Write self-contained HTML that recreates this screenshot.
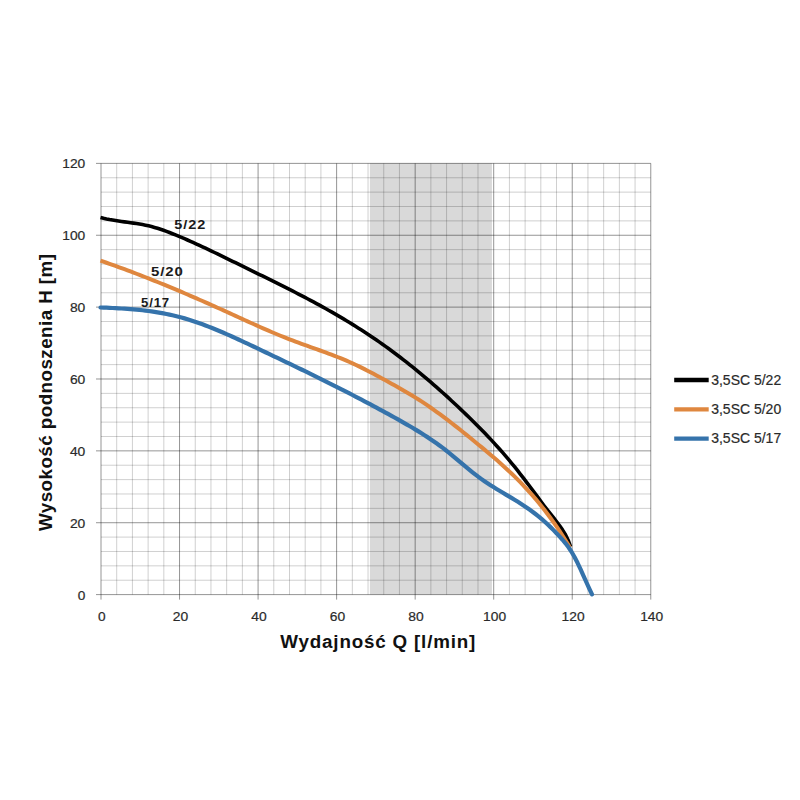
<!DOCTYPE html>
<html><head><meta charset="utf-8">
<style>
html,body{margin:0;padding:0;background:#fff;width:800px;height:800px;overflow:hidden}
svg{display:block}
text{font-family:"Liberation Sans",sans-serif}
.tk{font-size:13.2px;fill:#2a2a2a;stroke:#2a2a2a;stroke-width:0.2px}
.lg{font-size:14px;fill:#2a2a2a;stroke:#2a2a2a;stroke-width:0.2px}
.cl{font-size:12.8px;font-weight:bold;fill:#1a1a1a;letter-spacing:0.8px}
.ti{font-size:18.8px;font-weight:bold;fill:#111}
</style></head><body>
<svg width="800" height="800" viewBox="0 0 800 800">
<rect x="369.9" y="163.2" width="122.0" height="431.4" fill="#d9d9d9"/>
<path d="M116.71 163.38V594.60 M132.42 163.38V594.60 M148.12 163.38V594.60 M163.83 163.38V594.60 M195.25 163.38V594.60 M210.96 163.38V594.60 M226.66 163.38V594.60 M242.37 163.38V594.60 M273.79 163.38V594.60 M289.50 163.38V594.60 M305.20 163.38V594.60 M320.91 163.38V594.60 M352.33 163.38V594.60 M368.04 163.38V594.60 M383.74 163.38V594.60 M399.45 163.38V594.60 M430.87 163.38V594.60 M446.58 163.38V594.60 M462.28 163.38V594.60 M477.99 163.38V594.60 M509.41 163.38V594.60 M525.12 163.38V594.60 M540.82 163.38V594.60 M556.53 163.38V594.60 M587.95 163.38V594.60 M603.66 163.38V594.60 M619.36 163.38V594.60 M635.07 163.38V594.60 M101.00 580.23H650.78 M101.00 565.85H650.78 M101.00 551.48H650.78 M101.00 537.10H650.78 M101.00 508.36H650.78 M101.00 493.98H650.78 M101.00 479.61H650.78 M101.00 465.23H650.78 M101.00 436.49H650.78 M101.00 422.11H650.78 M101.00 407.74H650.78 M101.00 393.36H650.78 M101.00 364.62H650.78 M101.00 350.24H650.78 M101.00 335.87H650.78 M101.00 321.49H650.78 M101.00 292.75H650.78 M101.00 278.37H650.78 M101.00 264.00H650.78 M101.00 249.62H650.78 M101.00 220.88H650.78 M101.00 206.50H650.78 M101.00 192.13H650.78 M101.00 177.75H650.78" stroke="rgba(0,0,0,0.19)" stroke-width="1" fill="none"/>
<path d="M101.00 163.38V599.60 M179.54 163.38V599.60 M258.08 163.38V599.60 M336.62 163.38V599.60 M415.16 163.38V599.60 M493.70 163.38V599.60 M572.24 163.38V599.60 M650.78 163.38V599.60 M96.00 594.60H650.78 M96.00 522.73H650.78 M96.00 450.86H650.78 M96.00 378.99H650.78 M96.00 307.12H650.78 M96.00 235.25H650.78 M96.00 163.38H650.78" stroke="rgba(0,0,0,0.42)" stroke-width="1" fill="none"/>
<text x="77.70" y="599.50" class="tk" textLength="7.6" lengthAdjust="spacingAndGlyphs">0</text>
<text x="69.90" y="527.63" class="tk" textLength="15.4" lengthAdjust="spacingAndGlyphs">20</text>
<text x="69.90" y="455.76" class="tk" textLength="15.4" lengthAdjust="spacingAndGlyphs">40</text>
<text x="69.90" y="383.89" class="tk" textLength="15.4" lengthAdjust="spacingAndGlyphs">60</text>
<text x="69.90" y="312.02" class="tk" textLength="15.4" lengthAdjust="spacingAndGlyphs">80</text>
<text x="62.30" y="240.15" class="tk" textLength="23.0" lengthAdjust="spacingAndGlyphs">100</text>
<text x="62.30" y="168.28" class="tk" textLength="23.0" lengthAdjust="spacingAndGlyphs">120</text>
<text x="98.10" y="621.3" class="tk" textLength="7.6" lengthAdjust="spacingAndGlyphs">0</text>
<text x="172.74" y="621.3" class="tk" textLength="15.4" lengthAdjust="spacingAndGlyphs">20</text>
<text x="251.28" y="621.3" class="tk" textLength="15.4" lengthAdjust="spacingAndGlyphs">40</text>
<text x="329.82" y="621.3" class="tk" textLength="15.4" lengthAdjust="spacingAndGlyphs">60</text>
<text x="408.36" y="621.3" class="tk" textLength="15.4" lengthAdjust="spacingAndGlyphs">80</text>
<text x="483.10" y="621.3" class="tk" textLength="23.0" lengthAdjust="spacingAndGlyphs">100</text>
<text x="561.64" y="621.3" class="tk" textLength="23.0" lengthAdjust="spacingAndGlyphs">120</text>
<text x="640.18" y="621.3" class="tk" textLength="23.0" lengthAdjust="spacingAndGlyphs">140</text>
<path d="M100.50 217.43 L103.50 218.21 L106.50 218.91 L109.50 219.53 L112.50 220.08 L115.50 220.58 L118.50 221.04 L121.50 221.47 L124.50 221.88 L127.50 222.28 L130.50 222.68 L133.50 223.10 L136.50 223.55 L139.50 224.04 L142.50 224.57 L145.50 225.17 L148.50 225.84 L151.50 226.59 L154.50 227.42 L157.50 228.32 L160.50 229.29 L163.50 230.31 L166.50 231.40 L169.50 232.53 L172.50 233.70 L175.50 234.91 L178.50 236.15 L181.50 237.42 L184.50 238.71 L187.50 240.02 L190.50 241.34 L193.50 242.69 L196.50 244.05 L199.50 245.43 L202.50 246.82 L205.50 248.22 L208.50 249.64 L211.50 251.07 L214.50 252.50 L217.50 253.95 L220.50 255.40 L223.50 256.86 L226.50 258.33 L229.50 259.80 L232.50 261.27 L235.50 262.74 L238.50 264.22 L241.50 265.69 L244.50 267.16 L247.50 268.63 L250.50 270.10 L253.50 271.57 L256.50 273.04 L259.50 274.51 L262.50 275.98 L265.50 277.45 L268.50 278.93 L271.50 280.41 L274.50 281.90 L277.50 283.39 L280.50 284.89 L283.50 286.39 L286.50 287.90 L289.50 289.42 L292.50 290.95 L295.50 292.48 L298.50 294.03 L301.50 295.59 L304.50 297.16 L307.50 298.74 L310.50 300.33 L313.50 301.94 L316.50 303.56 L319.50 305.20 L322.50 306.85 L325.50 308.52 L328.50 310.21 L331.50 311.91 L334.50 313.63 L337.50 315.37 L340.50 317.13 L343.50 318.91 L346.50 320.71 L349.50 322.54 L352.50 324.38 L355.50 326.25 L358.50 328.15 L361.50 330.06 L364.50 332.01 L367.50 333.97 L370.50 335.97 L373.50 337.99 L376.50 340.04 L379.50 342.12 L382.50 344.23 L385.50 346.37 L388.50 348.54 L391.50 350.74 L394.50 352.97 L397.50 355.22 L400.50 357.51 L403.50 359.83 L406.50 362.18 L409.50 364.55 L412.50 366.95 L415.50 369.39 L418.50 371.85 L421.50 374.33 L424.50 376.85 L427.50 379.39 L430.50 381.96 L433.50 384.56 L436.50 387.18 L439.50 389.83 L442.50 392.51 L445.50 395.21 L448.50 397.94 L451.50 400.70 L454.50 403.47 L457.50 406.28 L460.50 409.11 L463.50 411.96 L466.50 414.84 L469.50 417.75 L472.50 420.69 L475.50 423.66 L478.50 426.67 L481.50 429.72 L484.50 432.81 L487.50 435.95 L490.50 439.14 L493.50 442.37 L496.50 445.67 L499.50 449.02 L502.50 452.43 L505.50 455.90 L508.50 459.44 L511.50 463.05 L514.50 466.73 L517.50 470.47 L520.50 474.27 L523.50 478.13 L526.50 482.05 L529.50 486.01 L532.50 490.02 L535.50 494.07 L538.50 498.15 L541.50 502.21 L544.50 506.21 L547.50 510.10 L550.50 513.91 L553.50 517.71 L556.50 521.58 L559.50 525.61 L562.50 529.86 L565.50 534.70 L568.50 541.07 L570.50 546.71" stroke="#000" stroke-width="3.6" fill="none" stroke-linejoin="round"/>
<path d="M100.50 260.67 L103.50 261.70 L106.50 262.74 L109.50 263.80 L112.50 264.86 L115.50 265.94 L118.50 267.02 L121.50 268.12 L124.50 269.22 L127.50 270.34 L130.50 271.47 L133.50 272.60 L136.50 273.75 L139.50 274.90 L142.50 276.06 L145.50 277.24 L148.50 278.42 L151.50 279.61 L154.50 280.81 L157.50 282.01 L160.50 283.23 L163.50 284.45 L166.50 285.68 L169.50 286.92 L172.50 288.17 L175.50 289.43 L178.50 290.69 L181.50 291.96 L184.50 293.23 L187.50 294.52 L190.50 295.81 L193.50 297.10 L196.50 298.41 L199.50 299.72 L202.50 301.03 L205.50 302.35 L208.50 303.68 L211.50 305.01 L214.50 306.35 L217.50 307.70 L220.50 309.05 L223.50 310.40 L226.50 311.76 L229.50 313.13 L232.50 314.49 L235.50 315.86 L238.50 317.24 L241.50 318.61 L244.50 319.97 L247.50 321.34 L250.50 322.70 L253.50 324.05 L256.50 325.40 L259.50 326.73 L262.50 328.06 L265.50 329.38 L268.50 330.68 L271.50 331.97 L274.50 333.24 L277.50 334.49 L280.50 335.73 L283.50 336.94 L286.50 338.14 L289.50 339.31 L292.50 340.46 L295.50 341.59 L298.50 342.70 L301.50 343.80 L304.50 344.88 L307.50 345.96 L310.50 347.03 L313.50 348.10 L316.50 349.18 L319.50 350.25 L322.50 351.34 L325.50 352.44 L328.50 353.55 L331.50 354.68 L334.50 355.83 L337.50 357.01 L340.50 358.21 L343.50 359.44 L346.50 360.71 L349.50 362.02 L352.50 363.36 L355.50 364.75 L358.50 366.18 L361.50 367.64 L364.50 369.15 L367.50 370.68 L370.50 372.24 L373.50 373.82 L376.50 375.42 L379.50 377.05 L382.50 378.69 L385.50 380.34 L388.50 382.00 L391.50 383.67 L394.50 385.35 L397.50 387.04 L400.50 388.74 L403.50 390.46 L406.50 392.19 L409.50 393.95 L412.50 395.75 L415.50 397.59 L418.50 399.48 L421.50 401.42 L424.50 403.40 L427.50 405.43 L430.50 407.50 L433.50 409.61 L436.50 411.76 L439.50 413.94 L442.50 416.16 L445.50 418.40 L448.50 420.68 L451.50 422.99 L454.50 425.32 L457.50 427.68 L460.50 430.05 L463.50 432.45 L466.50 434.87 L469.50 437.30 L472.50 439.75 L475.50 442.20 L478.50 444.67 L481.50 447.15 L484.50 449.64 L487.50 452.16 L490.50 454.69 L493.50 457.26 L496.50 459.86 L499.50 462.49 L502.50 465.17 L505.50 467.90 L508.50 470.68 L511.50 473.52 L514.50 476.43 L517.50 479.40 L520.50 482.44 L523.50 485.56 L526.50 488.77 L529.50 492.06 L532.50 495.44 L535.50 498.92 L538.50 502.50 L541.50 506.19 L544.50 509.99 L547.50 513.91 L550.50 517.95 L553.50 522.12 L556.50 526.43 L559.50 530.88 L562.50 535.47 L565.50 540.22 L568.50 545.13 L570.00 547.65" stroke="#df873f" stroke-width="4" fill="none" stroke-linejoin="round"/>
<path d="M100.50 307.48 L103.50 307.60 L106.50 307.72 L109.50 307.85 L112.50 307.99 L115.50 308.14 L118.50 308.30 L121.50 308.48 L124.50 308.67 L127.50 308.88 L130.50 309.11 L133.50 309.37 L136.50 309.64 L139.50 309.94 L142.50 310.26 L145.50 310.61 L148.50 310.99 L151.50 311.40 L154.50 311.84 L157.50 312.31 L160.50 312.82 L163.50 313.37 L166.50 313.95 L169.50 314.58 L172.50 315.25 L175.50 315.96 L178.50 316.71 L181.50 317.51 L184.50 318.36 L187.50 319.25 L190.50 320.19 L193.50 321.16 L196.50 322.18 L199.50 323.23 L202.50 324.32 L205.50 325.44 L208.50 326.59 L211.50 327.77 L214.50 328.99 L217.50 330.22 L220.50 331.49 L223.50 332.77 L226.50 334.08 L229.50 335.41 L232.50 336.75 L235.50 338.12 L238.50 339.49 L241.50 340.88 L244.50 342.28 L247.50 343.69 L250.50 345.10 L253.50 346.52 L256.50 347.94 L259.50 349.37 L262.50 350.80 L265.50 352.23 L268.50 353.65 L271.50 355.08 L274.50 356.52 L277.50 357.95 L280.50 359.39 L283.50 360.82 L286.50 362.27 L289.50 363.71 L292.50 365.15 L295.50 366.60 L298.50 368.06 L301.50 369.51 L304.50 370.97 L307.50 372.44 L310.50 373.90 L313.50 375.37 L316.50 376.85 L319.50 378.33 L322.50 379.82 L325.50 381.31 L328.50 382.81 L331.50 384.31 L334.50 385.82 L337.50 387.33 L340.50 388.85 L343.50 390.38 L346.50 391.91 L349.50 393.45 L352.50 395.00 L355.50 396.56 L358.50 398.12 L361.50 399.69 L364.50 401.27 L367.50 402.85 L370.50 404.45 L373.50 406.05 L376.50 407.66 L379.50 409.28 L382.50 410.91 L385.50 412.55 L388.50 414.20 L391.50 415.86 L394.50 417.52 L397.50 419.20 L400.50 420.89 L403.50 422.59 L406.50 424.31 L409.50 426.05 L412.50 427.81 L415.50 429.60 L418.50 431.42 L421.50 433.28 L424.50 435.19 L427.50 437.13 L430.50 439.13 L433.50 441.18 L436.50 443.28 L439.50 445.45 L442.50 447.68 L445.50 449.99 L448.50 452.37 L451.50 454.81 L454.50 457.30 L457.50 459.82 L460.50 462.35 L463.50 464.89 L466.50 467.40 L469.50 469.88 L472.50 472.31 L475.50 474.66 L478.50 476.94 L481.50 479.11 L484.50 481.21 L487.50 483.22 L490.50 485.17 L493.50 487.07 L496.50 488.92 L499.50 490.74 L502.50 492.54 L505.50 494.32 L508.50 496.11 L511.50 497.91 L514.50 499.73 L517.50 501.58 L520.50 503.48 L523.50 505.43 L526.50 507.44 L529.50 509.54 L532.50 511.71 L535.50 513.99 L538.50 516.37 L541.50 518.88 L544.50 521.51 L547.50 524.26 L550.50 527.13 L553.50 530.12 L556.50 533.22 L559.50 536.42 L562.50 539.74 L565.50 543.29 L568.50 547.24 L571.50 551.73 L574.50 556.93 L577.50 562.80 L580.50 569.16 L583.50 575.79 L586.50 582.50 L589.50 589.08 L592.00 594.32" stroke="#3573ab" stroke-width="4.2" fill="none" stroke-linejoin="round" stroke-linecap="round"/>
<text x="174.3" y="228.6" class="cl" textLength="31.8" lengthAdjust="spacingAndGlyphs">5/22</text>
<text x="151" y="275.7" class="cl" textLength="32.8" lengthAdjust="spacingAndGlyphs">5/20</text>
<text x="141" y="306.6" class="cl" textLength="29" lengthAdjust="spacingAndGlyphs">5/17</text>
<path d="M674.2 380.00H708.7" stroke="#000" stroke-width="4.3"/>
<text x="711.2" y="384.50" class="lg" textLength="70" lengthAdjust="spacingAndGlyphs">3,5SC 5/22</text>
<path d="M674.2 409.35H708.7" stroke="#df873f" stroke-width="4.3"/>
<text x="711.2" y="413.85" class="lg" textLength="70" lengthAdjust="spacingAndGlyphs">3,5SC 5/20</text>
<path d="M674.2 438.70H708.7" stroke="#3573ab" stroke-width="4.3"/>
<text x="711.2" y="443.20" class="lg" textLength="70" lengthAdjust="spacingAndGlyphs">3,5SC 5/17</text>
<text x="280.3" y="648.3" class="ti" textLength="195" lengthAdjust="spacing">Wydajność Q [l/min]</text>
<text transform="translate(52.4 531) rotate(-90)" x="0" y="0" class="ti" textLength="277" lengthAdjust="spacing">Wysokość podnoszenia H [m]</text>
</svg>
</body></html>
